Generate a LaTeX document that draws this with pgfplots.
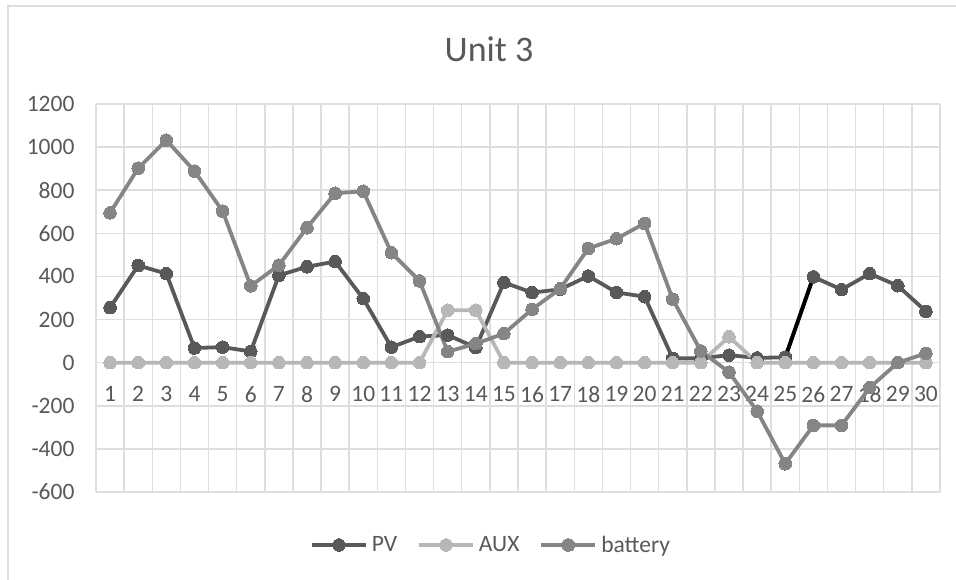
\documentclass[border=0pt]{standalone}
\usepackage{pgfplots}
\pgfplotsset{compat=1.18}
\usepackage{fontspec}
\setmainfont{Carlito}
\definecolor{gridc}{HTML}{DEDEDE}
\definecolor{txt}{HTML}{595959}
\definecolor{pvc}{HTML}{595959}
\definecolor{auxc}{HTML}{B7B7B7}
\definecolor{batc}{HTML}{858585}
\begin{document}
\begin{tikzpicture}[x=1pt,y=1pt]
\path[use as bounding box] (0,0) rectangle (956,580);
\draw[gridc, line width=2pt] (8,0) -- (8,574) -- (956,574);
\begin{axis}[
  at={(96pt,88pt)}, anchor=south west,
  scale only axis, width=844pt, height=388pt,
  xmin=0.5, xmax=30.5, ymin=-600, ymax=1200,
  xtick={1,2,...,30},
  xticklabels={1,2,3,4,5,6,7,8,9,10,11,12,13,14,15,16,17,18,19,20,21,22,23,24,25,26,27,18,29,30},
  minor xtick={0.5,1.5,...,30.5},
  ytick={-600,-400,...,1200},
  yticklabels={-600,-400,-200,0,200,400,600,800,1000,1200},
  xminorgrids, ymajorgrids,
  grid style={gridc, line width=1.5pt},
  minor grid style={gridc, line width=1.5pt},
  axis line style={draw=none},
  major tick length=0pt, minor tick length=0pt,
  tick label style={font=\fontsize{23.5}{28}\selectfont, text=txt},
  xticklabel style={yshift=109pt},
  yticklabel style={xshift=-18pt},
  clip=false,
  legend columns=3,
  legend style={at={(0.468,-0.1366)}, anchor=center, draw=none, fill=none,
    font=\fontsize{23.5}{28}\selectfont, text=txt,
    /tikz/every even column/.append style={column sep=18pt},
    /tikz/every odd column/.append style={column sep=2pt}},
  legend image code/.code={\draw[mark repeat=2,mark phase=2] plot coordinates {(0pt,0pt) (27pt,0pt) (54pt,0pt)};},
]
\addplot[pvc, line width=3.8pt, mark=*, mark size=6.3pt, mark options={solid, fill=pvc, draw=pvc, line width=0pt}]
coordinates {(1,255)(2,451)(3,413)(4,68)(5,72)(6,52)(7,405)(8,445)(9,469)(10,297)(11,72)(12,121)(13,128)(14,70)(15,372)(16,325)(17,340)(18,402)(19,326)(20,306)(21,20)(22,20)(23,35)(24,22)(25,25)(26,398)(27,339)(28,413)(29,357)(30,238)};
\addlegendentry{PV}
\addplot[black, line width=3.8pt, forget plot] coordinates {(25,25)(26,398)};
\addplot[only marks, pvc, mark=*, mark size=6.3pt, mark options={solid, fill=pvc, draw=pvc, line width=0pt}, forget plot]
coordinates {(25,25)(26,398)};
\addplot[auxc, line width=3.8pt, mark=*, mark size=6.3pt, mark options={solid, fill=auxc, draw=auxc, line width=0pt}]
coordinates {(1,0)(2,0)(3,0)(4,0)(5,0)(6,0)(7,0)(8,0)(9,0)(10,0)(11,0)(12,0)(13,243)(14,243)(15,0)(16,0)(17,0)(18,0)(19,0)(20,0)(21,0)(22,0)(23,120)(24,0)(25,0)(26,0)(27,0)(28,0)(29,0)(30,0)};
\addlegendentry{AUX}
\addplot[batc, line width=3.8pt, mark=*, mark size=6.3pt, mark options={solid, fill=batc, draw=batc, line width=0pt}]
coordinates {(1,695)(2,902)(3,1032)(4,889)(5,703)(6,356)(7,452)(8,626)(9,786)(10,795)(11,510)(12,379)(13,51)(14,88)(15,135)(16,247)(17,343)(18,530)(19,575)(20,646)(21,294)(22,54)(23,-44)(24,-225)(25,-469)(26,-291)(27,-291)(28,-116)(29,0)(30,43)};
\addlegendentry{battery}
\end{axis}
\node[anchor=base, font=\fontsize{36}{40}\selectfont, text=txt] at (489,518) {Unit 3};
\end{tikzpicture}
\end{document}
